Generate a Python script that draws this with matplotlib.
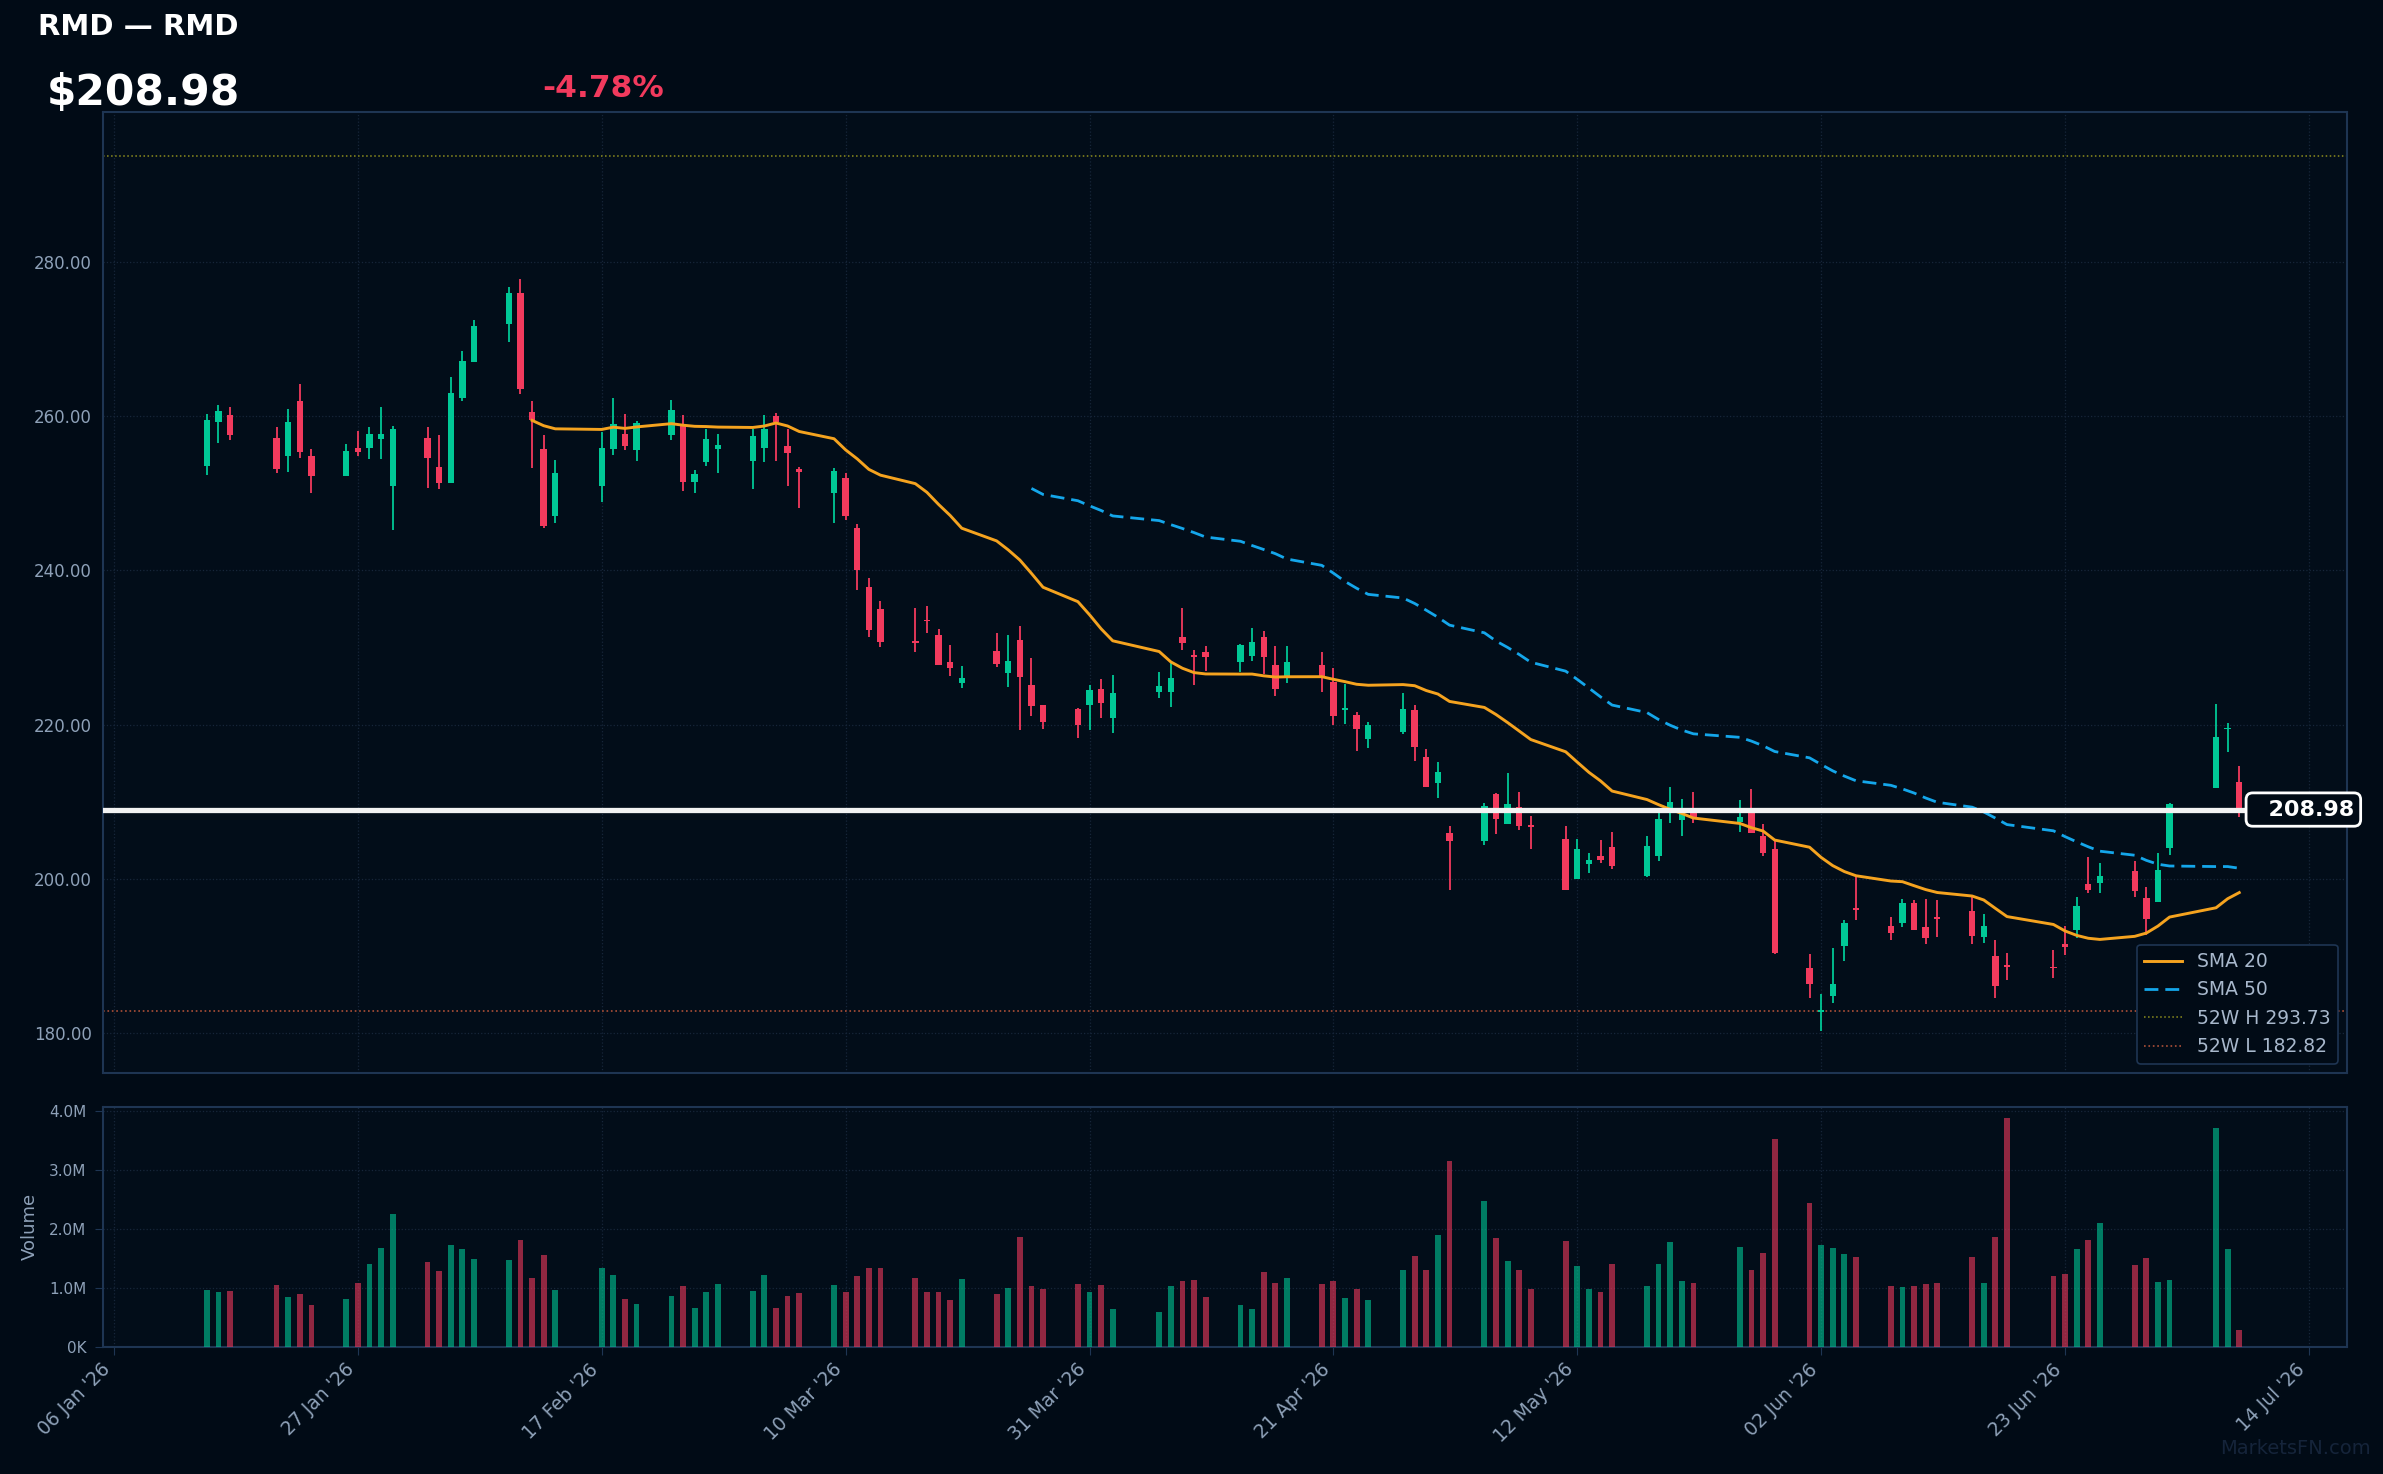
import numpy as np
import pandas as pd
import matplotlib
matplotlib.use("Agg")
import matplotlib.pyplot as plt
import matplotlib.dates as mdates
import matplotlib.transforms as mtransforms

# ---------------- data ----------------
ticker = "RMD"
holidays = ["2026-01-19", "2026-02-16", "2026-04-03", "2026-05-25", "2026-06-19", "2026-07-03"]
dates = pd.bdate_range("2026-01-14", "2026-07-08", freq="C", holidays=holidays)

opens = [253.6, 259.2, 260.1, 257.2, 254.8, 262.0, 254.8, 252.2, 255.9, 255.9, 257.0, 251.0,
         257.2, 253.4, 251.3, 262.3, 267.0, 271.9, 276.0, 260.6, 255.8, 247.1,
         251.0, 255.8, 257.7, 255.6, 257.6, 259.0, 251.5, 254.1, 255.8,
         254.2, 255.9, 260.0, 256.1, 253.2, 250.1, 252.0, 245.5, 237.8, 235.0,
         230.8, 233.6, 231.6, 228.1, 225.4, 229.5, 226.7, 231.0, 225.1, 222.5,
         222.0, 222.6, 224.6, 220.9, 224.2, 224.2, 231.3, 229.0, 229.4,
         228.1, 228.9, 231.3, 227.7, 226.2, 227.7, 225.5, 221.9, 221.3, 218.1,
         219.0, 221.9, 215.8, 212.4, 206.0, 204.9, 211.0, 207.1, 209.3, 206.8,
         205.1, 200.0, 201.9, 203.0, 204.1, 200.4, 202.9, 208.7, 207.6, 208.7,
         207.4, 209.1, 205.6, 203.8, 188.4, 182.7, 184.8, 191.3, 196.2,
         193.9, 194.3, 196.8, 193.8, 194.9, 195.8, 192.5, 190.0, 188.8,
         188.5, 191.5, 193.3, 199.3, 199.5, 201.0, 197.5, 197.0, 204.0,
         211.8, 219.4, 212.5]
highs = [260.3, 261.5, 261.2, 258.6, 261.0, 264.2, 255.8, 256.4, 258.1, 258.6, 261.2, 258.7,
         258.6, 257.6, 265.1, 268.5, 272.5, 276.7, 277.8, 262.0, 257.6, 254.3,
         258.0, 262.4, 260.3, 259.4, 262.1, 260.2, 253.0, 258.4, 257.7,
         258.4, 260.2, 260.4, 258.4, 253.4, 253.3, 252.6, 246.0, 239.0, 236.0,
         235.1, 235.4, 232.4, 230.3, 227.6, 231.9, 231.6, 232.8, 228.7, 222.6,
         222.1, 225.2, 225.9, 226.4, 226.8, 228.0, 235.1, 229.7, 230.2,
         230.4, 232.5, 232.1, 230.2, 230.2, 229.4, 227.4, 225.3, 221.6, 220.4,
         224.1, 222.5, 216.8, 215.2, 206.9, 209.8, 211.1, 213.7, 211.3, 208.1,
         206.8, 205.2, 203.4, 205.0, 206.1, 205.6, 209.0, 211.9, 210.4, 211.2,
         210.2, 211.7, 207.1, 205.0, 190.3, 185.0, 191.0, 194.6, 200.2,
         195.1, 197.4, 197.3, 197.4, 197.2, 197.7, 195.4, 192.1, 190.4,
         190.8, 193.9, 197.7, 202.8, 202.0, 202.3, 198.9, 203.4, 209.8,
         222.7, 220.2, 214.6]
lows = [252.4, 256.5, 256.9, 252.6, 252.8, 254.6, 250.1, 252.2, 254.8, 254.4, 254.5, 245.2,
        250.7, 250.5, 251.3, 262.0, 267.0, 269.6, 262.9, 253.3, 245.5, 246.2,
        248.9, 255.0, 255.6, 254.2, 256.9, 250.3, 250.1, 253.5, 252.7,
        250.5, 254.0, 254.2, 250.9, 248.1, 246.1, 246.6, 237.5, 231.4, 230.1,
        229.4, 231.9, 227.7, 226.3, 224.8, 227.5, 224.9, 219.3, 221.1, 219.4,
        218.2, 219.3, 220.8, 218.9, 223.4, 222.3, 229.7, 225.1, 226.9,
        226.8, 228.3, 226.5, 223.7, 225.4, 224.2, 220.0, 220.1, 216.6, 217.0,
        218.8, 215.3, 211.9, 210.5, 198.5, 204.4, 205.8, 207.1, 206.3, 203.9,
        198.5, 200.0, 200.7, 202.0, 201.3, 200.2, 202.3, 207.2, 205.5, 207.2,
        206.1, 205.9, 202.9, 190.3, 184.5, 180.2, 183.9, 189.3, 194.6,
        192.1, 193.7, 193.4, 191.6, 192.4, 191.5, 191.7, 184.5, 186.9,
        187.1, 190.1, 192.3, 198.2, 198.2, 197.6, 192.7, 197.0, 203.1,
        211.8, 216.5, 208.0]
closes = [259.5, 260.7, 257.5, 253.1, 259.3, 255.3, 252.3, 255.5, 255.4, 257.7, 257.7, 258.4,
          254.6, 251.4, 263.0, 267.1, 271.7, 276.0, 263.5, 259.5, 245.7, 252.6,
          255.9, 259.0, 256.1, 259.1, 260.8, 251.5, 252.5, 257.1, 256.3,
          257.4, 258.4, 259.3, 255.2, 252.8, 252.9, 247.1, 240.1, 232.3, 230.7,
          230.6, 233.4, 227.7, 227.4, 226.0, 227.9, 228.2, 226.2, 222.4, 220.3,
          220.0, 224.5, 222.8, 224.1, 225.0, 226.0, 230.6, 228.8, 228.8,
          230.3, 230.7, 228.8, 224.6, 228.1, 226.2, 221.1, 222.1, 219.4, 219.9,
          222.0, 217.1, 211.9, 213.8, 204.9, 209.4, 207.7, 209.7, 206.8, 206.7,
          198.6, 203.8, 202.4, 202.4, 201.7, 204.2, 207.8, 209.9, 208.9, 207.9,
          208.0, 206.0, 203.3, 190.4, 186.3, 182.9, 186.4, 194.3, 196.0,
          193.0, 196.9, 193.4, 192.3, 194.8, 192.6, 193.9, 186.1, 188.6,
          188.4, 191.1, 196.5, 198.5, 200.3, 198.4, 194.8, 201.1, 209.7,
          218.4, 219.47, 208.98]
volumes_m = [0.96, 0.93, 0.94, 1.05, 0.84, 0.89, 0.71, 0.81, 1.08, 1.40, 1.67, 2.25,
             1.44, 1.28, 1.73, 1.66, 1.49, 1.47, 1.81, 1.17, 1.56, 0.96,
             1.33, 1.22, 0.81, 0.72, 0.86, 1.03, 0.66, 0.93, 1.06,
             0.94, 1.22, 0.66, 0.86, 0.91, 1.05, 0.93, 1.20, 1.33, 1.33,
             1.17, 0.93, 0.93, 0.79, 1.15, 0.89, 1.00, 1.86, 1.03, 0.98,
             1.06, 0.93, 1.05, 0.64, 0.59, 1.03, 1.11, 1.13, 0.84,
             0.71, 0.64, 1.27, 1.08, 1.17, 1.06, 1.11, 0.83, 0.98, 0.79,
             1.30, 1.54, 1.30, 1.89, 3.15, 2.47, 1.84, 1.45, 1.30, 0.98,
             1.79, 1.37, 0.98, 0.93, 1.40, 1.03, 1.40, 1.78, 1.11, 1.08,
             1.69, 1.30, 1.59, 3.52, 2.44, 1.73, 1.67, 1.57, 1.52,
             1.03, 1.01, 1.03, 1.06, 1.08, 1.52, 1.08, 1.86, 3.88,
             1.20, 1.23, 1.66, 1.81, 2.10, 1.39, 1.50, 1.10, 1.13,
             3.71, 1.66, 0.28]

high_52w = 293.73
low_52w = 182.82
last_price = 208.98
pct_change = -4.78

x_tick_dates = pd.date_range("2026-01-06", "2026-07-14", freq="21D")
y_ticks = [180, 200, 220, 240, 260, 280]
vol_ticks = [0, 1, 2, 3, 4]
vol_tick_labels = ["0K", "1.0M", "2.0M", "3.0M", "4.0M"]

# ---------------- style ----------------
BG = "#010b16"
AX_BG = "#020d19"
SPINE = "#1e3553"
GRID = "#17263a"
TXT = "#8ea1b8"
UP = "#00c896"
DN = "#f23a5d"
SMA20_C = "#f5a31f"
SMA50_C = "#14a6ea"

plt.rcParams["font.family"] = ["DejaVu Sans"]

fig = plt.figure(figsize=(23.83, 14.74), dpi=100, facecolor=BG)
ax = fig.add_axes([0.0432, 0.272, 0.9418, 0.6517], facecolor=AX_BG)
axv = fig.add_axes([0.0432, 0.0864, 0.9418, 0.1629], facecolor=AX_BG, sharex=ax)

x = mdates.date2num(dates)
o = np.array(opens); h = np.array(highs); l = np.array(lows); c = np.array(closes)
v = np.array(volumes_m)
up = c >= o
colors = np.where(up, UP, DN)

# candles
ax.vlines(x, l, h, colors=colors, lw=1.3, zorder=3)
body = np.maximum(np.abs(c - o), 0.22)
ax.bar(x, body, bottom=np.minimum(o, c), width=0.55, color=colors, linewidth=0, zorder=4)

# moving averages
s = pd.Series(c)
sma20 = s.rolling(20).mean()
sma50 = s.rolling(50).mean()
ax.plot(x, sma20, color=SMA20_C, lw=2.1, label="SMA 20", zorder=5)
ax.plot(x, sma50, color=SMA50_C, lw=2.0, dashes=(5, 2.5), label="SMA 50", zorder=5)
ax.axhline(high_52w, color="#8e8e1e", ls=":", lw=1.1, label=f"52W H {high_52w:.2f}", zorder=2)
ax.axhline(low_52w, color="#ad5038", ls=":", lw=1.2, label=f"52W L {low_52w:.2f}", zorder=2)
ax.axhline(last_price, color="#f2f2f2", lw=3.8, zorder=6)

trans = mtransforms.blended_transform_factory(ax.transAxes, ax.transData)
ax.text(1.003, last_price, f"  {last_price:.2f}", transform=trans, ha="right", va="center",
        fontsize=16, fontweight="bold", color="white", zorder=10, clip_on=False,
        bbox=dict(boxstyle="round,pad=0.3", fc=BG, ec="white", lw=2))

ax.set_ylim(174.8, 299.4)
ax.set_yticks(y_ticks)
ax.set_yticklabels([f"{t:.2f}" for t in y_ticks])
ax.set_xlim(x[0] - 8.95, x[-1] + 9.3)
ax.set_xticks(mdates.date2num(x_tick_dates))
ax.tick_params(axis="x", labelbottom=False, length=0)
ax.tick_params(axis="y", colors=TXT, labelsize=12, length=0, pad=8)
ax.grid(True, ls=":", color=GRID, lw=0.9)

leg = ax.legend(loc="lower right", fontsize=13.5, facecolor=BG, edgecolor=SPINE, framealpha=1,
                labelcolor="#a8b8cc")
leg.get_frame().set_linewidth(1.2)
leg.set_zorder(20)

# volume
axv.bar(x, v, width=0.5, color=colors, alpha=0.6, linewidth=0, zorder=3)
axv.set_ylim(0, 4.07)
axv.set_yticks(vol_ticks)
axv.set_yticklabels(vol_tick_labels)
axv.set_ylabel("Volume", color=TXT, fontsize=13, labelpad=7)
axv.set_xticks(mdates.date2num(x_tick_dates))
axv.set_xticklabels([d.strftime("%d %b '%y") for d in x_tick_dates], rotation=45, ha="right")
axv.tick_params(axis="x", colors=TXT, labelsize=13.5, length=6, color=SPINE)
axv.tick_params(axis="y", colors=TXT, labelsize=11, length=6, pad=6, color=SPINE)
axv.grid(True, ls=":", color=GRID, lw=0.9)

for a in (ax, axv):
    for sp in a.spines.values():
        sp.set_color(SPINE)
        sp.set_linewidth(1.5)

# header texts
fig.text(0.016, 0.9817, f"{ticker} — {ticker}", ha="left", va="center", fontsize=21,
         fontweight="bold", color="white")
fig.text(0.0198, 0.937, f"${last_price:.2f}", ha="left", va="center", fontsize=30.5,
         fontweight="bold", color="white")
fig.text(0.2277, 0.940, f"{pct_change:.2f}%", ha="left", va="center", fontsize=22.5,
         fontweight="bold", color=DN)
fig.text(0.995, 0.0172, "MarketsFN.com", ha="right", va="center", fontsize=14, color="#15243a")

fig.savefig("out.png", dpi=100, facecolor=BG)
